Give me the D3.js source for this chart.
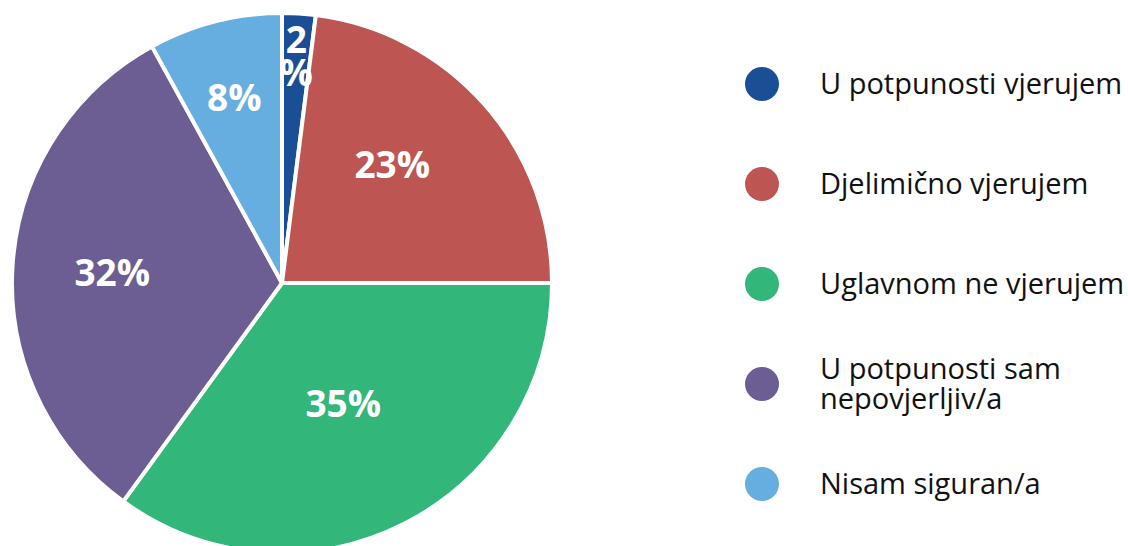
<!DOCTYPE html>
<html>
<head>
<meta charset="utf-8">
<script src="https://cdn.jsdelivr.net/npm/d3@7"></script>
<style>
  body { margin: 0; background: #fff; }
  svg { display: block; font-family: "Open Sans", "Noto Sans", sans-serif; }
</style>
</head>
<body>
<div id="container"></div>
<script>
// Podaci
const categories = ["U potpunosti vjerujem", "Djelimično vjerujem", "Uglavnom ne vjerujem", "U potpunosti sam nepovjerljiv/a", "Nisam siguran/a"];
const values = [2, 23, 35, 32, 8];
const labels = ["2 %", "23%", "35%", "32%", "8%"];
const colors = ["#1a4f96", "#bd5553", "#32b679", "#6c5e93", "#67aee0"];
// prijelom legende u dva reda
const legendLines = [["U potpunosti vjerujem"], ["Djelimično vjerujem"], ["Uglavnom ne vjerujem"], ["U potpunosti sam", "nepovjerljiv/a"], ["Nisam siguran/a"]];

const width = 1128, height = 546;
const cx = 282, cy = 283, radius = 270;

const svg = d3.select("#container").append("svg")
    .attr("width", width)
    .attr("height", height);

const data = categories.map((c, i) => ({ name: c, value: values[i], label: labels[i], color: colors[i] }));

const pie = d3.pie().sort(null).value(d => d.value);
const arc = d3.arc().innerRadius(0).outerRadius(radius);
const total = d3.sum(values);

const g = svg.append("g").attr("transform", `translate(${cx},${cy})`);

const arcs = pie(data);

g.selectAll("path")
  .data(arcs)
  .enter().append("path")
  .attr("d", arc)
  .attr("fill", d => d.data.color)
  .attr("stroke", "#fff")
  .attr("stroke-width", 4)
  .attr("stroke-linejoin", "round");

// manji isječci -> oznaka dalje od centra
function labelRadius(d) {
  const frac = d.data.value / total;
  if (frac < 0.05) return radius * 0.84;
  if (frac < 0.1) return radius * 0.71;
  if (frac > 0.34) return radius * 0.5;
  if (frac > 0.3) return radius * 0.63;
  return radius * 0.6;
}

const lbl = g.selectAll(".lbl")
  .data(arcs)
  .enter().append("text")
  .attr("class", "lbl")
  .attr("transform", d => {
    const r = labelRadius(d);
    let a = (d.startAngle + d.endAngle) / 2;
    if (d.data.value / total > 0.2 && d.data.value / total < 0.25) a -= 0.1;
    return `translate(${Math.sin(a) * r},${-Math.cos(a) * r})`;
  })
  .attr("text-anchor", "middle")
  .attr("fill", "#fff")
  .attr("font-weight", "bold")
  .attr("font-size", 37);

lbl.each(function(d) {
  const parts = d.data.label.split(" ");
  const t = d3.select(this);
  const lh = 33;
  const y0 = -(parts.length - 1) * lh / 2;
  parts.forEach((p, i) => {
    t.append("tspan")
      .attr("x", 0)
      .attr("y", y0 + i * lh)
      .attr("dy", "0.36em")
      .text(p);
  });
});

// Legenda
const legendY = d3.scalePoint().domain(categories).range([84, 484]);

const leg = svg.append("g").selectAll("g")
  .data(data)
  .enter().append("g")
  .attr("transform", d => `translate(762,${legendY(d.name)})`);

leg.append("circle")
  .attr("r", 17)
  .attr("fill", d => d.color);

leg.append("text")
  .attr("font-size", 29)
  .attr("fill", "#111")
  .each(function(d, i) {
    const lines = legendLines[i];
    const lh = 30;
    const y0 = -(lines.length - 1) * lh / 2;
    lines.forEach((l, j) => {
      d3.select(this).append("tspan")
        .attr("x", 58)
        .attr("y", y0 + j * lh)
        .attr("dy", "0.36em")
        .text(l);
    });
  });
</script>
</body>
</html>
